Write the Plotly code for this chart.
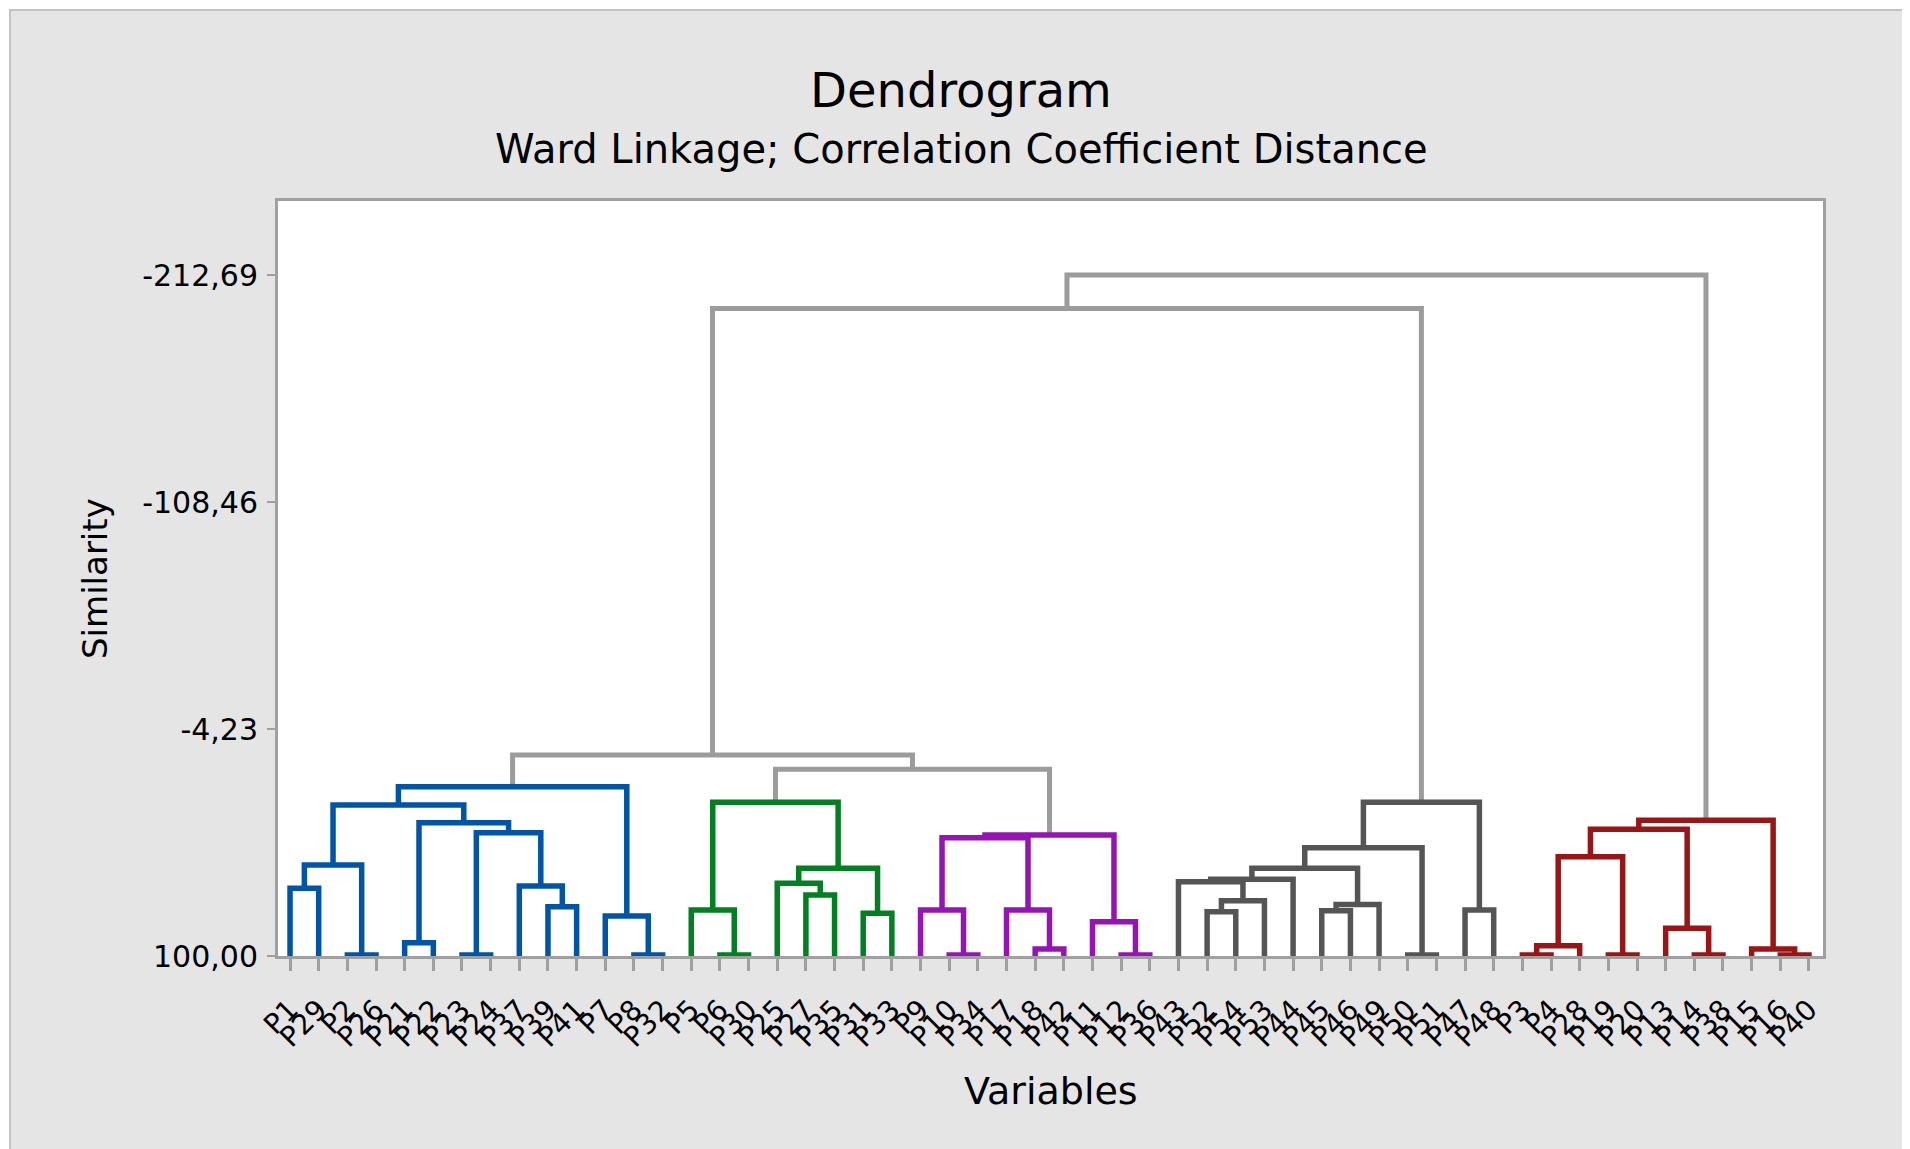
import plotly.graph_objects as go

# ---------------- data ----------------
leaves = ["P1", "P29", "P2", "P26", "P21", "P22", "P23", "P24", "P37", "P39", "P41", "P7", "P8", "P32",
          "P5", "P6", "P30", "P25", "P27", "P35", "P31", "P33",
          "P9", "P10", "P34", "P17", "P18", "P42", "P11", "P12", "P36",
          "P43", "P52", "P54", "P53", "P44", "P45", "P46", "P49", "P50", "P51", "P47", "P48",
          "P3", "P4", "P28", "P19", "P20", "P13", "P14", "P38", "P15", "P16", "P40"]

# merges: (node name, left child, right child, similarity level)
blue_merges = [
    ("b1", "P1", "P29", 68.9), ("b2", "P2", "P26", 99.5), ("b3", "b1", "b2", 58.2),
    ("b4", "P21", "P22", 93.9), ("b5", "P23", "P24", 99.5), ("b6", "P39", "P41", 77.4),
    ("b7", "P37", "b6", 67.9), ("b8", "b5", "b7", 43.4), ("b9", "b4", "b8", 38.8),
    ("b10", "b3", "b9", 30.7), ("b11", "P8", "P32", 99.5), ("b12", "P7", "b11", 81.6),
    ("b13", "b10", "b12", 22.3),
]
green_merges = [
    ("g1", "P6", "P30", 99.5), ("g2", "P5", "g1", 78.9), ("g3", "P27", "P35", 72.0),
    ("g4", "P25", "g3", 66.6), ("g5", "P31", "P33", 80.4), ("g6", "g4", "g5", 59.7),
    ("g7", "g2", "g6", 29.4),
]
purple_merges = [
    ("p1", "P10", "P34", 99.5), ("p2", "P9", "p1", 78.9), ("p3", "P18", "P42", 96.8),
    ("p4", "P17", "p3", 78.9), ("p5", "p2", "p4", 45.7), ("p6", "P12", "P36", 99.5),
    ("p7", "P11", "p6", 84.3), ("p8", "p5", "p7", 44.4),
]
dark_merges = [
    ("d1", "P52", "P54", 79.7), ("d2", "d1", "P53", 74.6), ("d3", "P43", "d2", 65.9),
    ("d4", "d3", "P44", 64.8), ("d5", "P45", "P46", 79.2), ("d6", "d5", "P49", 76.3),
    ("d7", "d4", "d6", 59.7), ("d8", "P50", "P51", 99.5), ("d9", "d7", "d8", 50.3),
    ("d10", "P47", "P48", 78.9), ("d11", "d9", "d10", 29.4),
]
red_merges = [
    ("r1", "P3", "P4", 99.5), ("r2", "r1", "P28", 95.3), ("r3", "P19", "P20", 99.5),
    ("r4", "r2", "r3", 54.4), ("r5", "P14", "P38", 99.5), ("r6", "P13", "r5", 87.3),
    ("r7", "r4", "r6", 41.8), ("r8", "P16", "P40", 99.5), ("r9", "P15", "r8", 96.8),
    ("r10", "r7", "r9", 37.7),
]
link_merges = [
    ("gp", "g7", "p8", 14.3), ("bgp", "b13", "gp", 7.7),
    ("top2", "bgp", "d11", -197.3), ("top", "top2", "r10", -212.69),
]

y_tickvals = [100.0, -4.23, -108.46, -212.69]
y_ticktext = ["100,00", "-4,23", "-108,46", "-212,69"]

cluster_order = [
    ("blue", blue_merges, "#0055A6", 5.5),
    ("green", green_merges, "#008020", 5.5),
    ("purple", purple_merges, "#9614B6", 5.5),
    ("dark", dark_merges, "#555555", 5.5),
    ("red", red_merges, "#9A1515", 5.5),
    ("link", link_merges, "#9C9C9C", 5.0),
]

# ---------------- build tree geometry ----------------
pos = {name: i for i, name in enumerate(leaves)}
hgt = {name: 100.0 for name in leaves}
paths = {}
all_merges = blue_merges + green_merges + purple_merges + dark_merges + red_merges + link_merges
group_of = {}
for key, ms, _, _ in cluster_order:
    for m in ms:
        group_of[m[0]] = key
for name, a, b, s in all_merges:
    xa, xb = pos[a], pos[b]
    ha, hb = hgt[a], hgt[b]
    paths.setdefault(group_of[name], ([], []))
    xs, ys = paths[group_of[name]]
    xs += [xa, xa, xb, xb, None]
    ys += [ha, s, s, hb, None]
    pos[name] = (xa + xb) / 2.0
    hgt[name] = s

fig = go.Figure()
draw_order = ["link", "blue", "green", "purple", "dark", "red"]
style = {k: (c, w) for k, _, c, w in cluster_order}
for key in draw_order:
    xs, ys = paths[key]
    c, w = style[key]
    fig.add_trace(go.Scatter(x=xs, y=ys, mode="lines", line=dict(color=c, width=w),
                             hoverinfo="skip", showlegend=False))

# ---------------- layout ----------------
# page body has an 8px margin, so figure pixel = screen pixel - 8
OFF = 8
W, H = 1910, 1149
L, T = 278 - OFF, 201 - OFF
R = W - (1823 - OFF)
B = H - (956 - OFF)
pw, ph = W - L - R, H - T - B


def px(xs_):
    return (xs_ - OFF - L) / pw


def py(ys_):
    return (H - B - (ys_ - OFF)) / ph


font_fam = "DejaVu Sans"
axis_col = "#A0A0A0"

fig.update_layout(
    width=W, height=H,
    margin=dict(l=L, r=R, t=T, b=B, pad=0),
    paper_bgcolor="#FFFFFF",
    plot_bgcolor="#FFFFFF",
    showlegend=False,
    font=dict(family=font_fam, color="black"),
    shapes=[
        dict(type="rect", xref="paper", yref="paper", x0=px(10), x1=px(W + 40), y0=py(H + 40), y1=py(10),
             fillcolor="#E5E5E5", line=dict(color="#C4C4C4", width=2), layer="below"),
        dict(type="rect", xref="paper", yref="paper", x0=0, x1=1, y0=0, y1=1,
             fillcolor="#FFFFFF", line=dict(width=0), layer="below"),
    ],
    annotations=[
        dict(text="Dendrogram", xref="paper", yref="paper", x=px(961), y=py(90),
             xanchor="center", yanchor="middle", showarrow=False,
             font=dict(size=48, family=font_fam, color="black")),
        dict(text="Ward Linkage; Correlation Coefficient Distance", xref="paper", yref="paper",
             x=px(961), y=py(149), xanchor="center", yanchor="middle", showarrow=False,
             font=dict(size=40, family=font_fam, color="black")),
        dict(text="Variables", xref="paper", yref="paper", x=px(1051), y=py(1091),
             xanchor="center", yanchor="middle", showarrow=False,
             font=dict(size=38, family=font_fam, color="black")),
        dict(text="Similarity", xref="paper", yref="paper", x=px(95), y=py(579),
             xanchor="center", yanchor="middle", showarrow=False, textangle=-90,
             font=dict(size=34, family=font_fam, color="black")),
    ],
)

fig.update_xaxes(
    range=[-0.42, 53.49], tickmode="array", tickvals=list(range(len(leaves))), ticktext=leaves,
    tickangle=-45, tickfont=dict(size=28, family=font_fam, color="black"),
    ticks="outside", ticklen=12, tickwidth=3, tickcolor=axis_col, ticklabelstandoff=11,
    showline=True, linecolor=axis_col, linewidth=3, mirror=True,
    showgrid=False, zeroline=False, layer="below traces",
)
fig.update_yaxes(
    range=[100, -246.7], tickmode="array", tickvals=y_tickvals, ticktext=y_ticktext,
    tickfont=dict(size=30, family=font_fam, color="black"),
    ticks="outside", ticklen=8, tickwidth=2, tickcolor=axis_col, ticklabelstandoff=3,
    showline=True, linecolor=axis_col, linewidth=3, mirror=True,
    showgrid=False, zeroline=False, layer="below traces",
)

fig.write_html("out.html")
